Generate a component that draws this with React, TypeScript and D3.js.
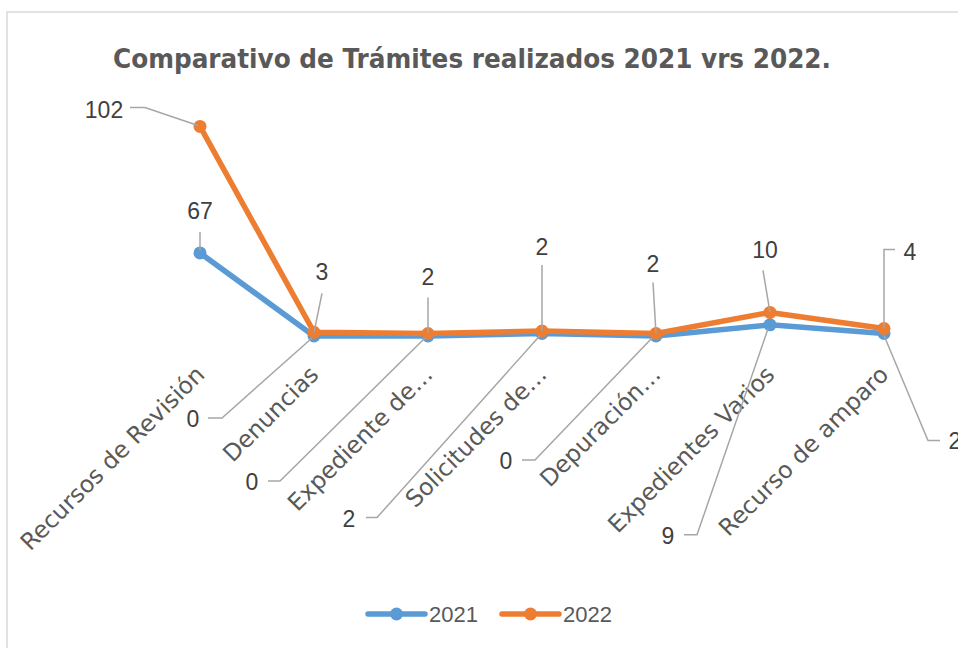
import React from "react";
import * as d3 from "d3";

const categories = [
  "Recursos de Revisión",
  "Denuncias",
  "Expediente de…",
  "Solicitudes de…",
  "Depuración…",
  "Expedientes Varios",
  "Recurso de amparo",
];
const series2021 = [67, 0, 0, 2, 0, 9, 2];
const series2022 = [102, 3, 2, 2, 2, 10, 4];
const seriesNames = ["2021", "2022"];
const title = "Comparativo de Trámites realizados 2021 vrs 2022.";

// label layout (offsets relative to each point): [textDx, textDy], leader polyline
const labelLayout2021: { t: [number, number]; l: [number, number][] }[] = [
  { t: [0, -42], l: [[0, -21], [0, -3]] },
  { t: [-121, 83], l: [[-106, 82], [-92, 82], [-2, 2]] },
  { t: [-176, 146], l: [[-160, 145], [-148, 145], [-3, 2]] },
  { t: [-193, 185], l: [[-176, 184], [-165, 184], [-2, 2]] },
  { t: [-150, 125], l: [[-134, 124], [-121, 124], [-4, 2]] },
  { t: [-102, 211], l: [[-86, 210], [-73, 210], [-2, 4]] },
  { t: [71, 107], l: [[0, 2], [44, 107], [56, 107]] },
];
const labelLayout2022: { t: [number, number]; l: [number, number][] }[] = [
  { t: [-96, -16], l: [[-70, -19], [-55, -19], [-2, -1]] },
  { t: [8, -60], l: [[8, -39], [0, 0]] },
  { t: [0, -57], l: [[0, -36], [0, 0]] },
  { t: [0, -84], l: [[0, -66], [0, 0]] },
  { t: [-3, -70], l: [[-3, -51], [0, 0]] },
  { t: [-5, -62], l: [[-7, -42], [0, 0]] },
  { t: [26, -77], l: [[11, -79], [0, -79], [0, 0]] },
];

const BLUE = "#5B9BD5";
const ORANGE = "#ED7D31";

export default function App() {
  const W = 958;
  const H = 648;
  const x = d3.scalePoint<string>().domain(categories).range([200, 884]);
  const base = 336;
  const y = d3.scaleLinear().domain([0, 180]).range([base, base - 180 * 1.24]);

  // stacked line: 2022 plotted on top of 2021
  const stacked2022 = series2022.map((v, i) => v + series2021[i]);
  const pts2021 = categories.map((c, i) => [x(c)!, y(series2021[i])] as [number, number]);
  const pts2022 = categories.map((c, i) => [x(c)!, y(stacked2022[i])] as [number, number]);
  const line = d3.line<[number, number]>();

  const leaderColor = "#A6A6A6";
  const labelFont = "'Liberation Sans', Arial, sans-serif";

  const renderLabels = (
    pts: [number, number][],
    vals: number[],
    layout: { t: [number, number]; l: [number, number][] }[],
    key: string
  ) =>
    pts.map(([px, py], i) => {
      const lay = layout[i];
      const path = lay.l.map(([dx, dy]) => [px + dx, py + dy] as [number, number]);
      return (
        <g key={key + i}>
          <path d={line(path) || ""} fill="none" stroke={leaderColor} strokeWidth={1.5} />
          <text
            x={px + lay.t[0]}
            y={py + lay.t[1] + 8}
            textAnchor="middle"
            fontFamily={labelFont}
            fontSize={23}
            fill="#404040"
          >
            {vals[i]}
          </text>
        </g>
      );
    });

  return (
    <svg
      width={W}
      height={H}
      style={{ position: "absolute", left: 0, top: 0, background: "#fff" }}
    >
      <rect x={0} y={0} width={W} height={H} fill="#fff" />
      <rect x={7} y={12} width={W + 20} height={H + 20} fill="#fff" stroke="#D9D9D9" strokeWidth={1.5} />
      <text
        x={472}
        y={68}
        textAnchor="middle"
        fontFamily="'DejaVu Sans', sans-serif"
        fontWeight="bold"
        fontSize={27}
        fill="#595959"
        textLength={718}
        lengthAdjust="spacingAndGlyphs"
      >
        {title}
      </text>

      {/* category labels */}
      {categories.map((c) => (
        <text
          key={c}
          transform={`translate(${x(c)! + 6},${base + 40}) rotate(-45)`}
          textAnchor="end"
          fontFamily="'DejaVu Sans', sans-serif"
          fontSize={23.5}
          fill="#595959"
        >
          {c}
        </text>
      ))}

      {/* lines */}
      <path d={line(pts2021) || ""} fill="none" stroke={BLUE} strokeWidth={5.5} strokeLinejoin="round" />
      {pts2021.map(([px, py], i) => (
        <circle key={"b" + i} cx={px} cy={py} r={6.5} fill={BLUE} />
      ))}
      <path d={line(pts2022) || ""} fill="none" stroke={ORANGE} strokeWidth={5.5} strokeLinejoin="round" />
      {pts2022.map(([px, py], i) => (
        <circle key={"o" + i} cx={px} cy={py} r={6.5} fill={ORANGE} />
      ))}

      {renderLabels(pts2021, series2021, labelLayout2021, "l21")}
      {renderLabels(pts2022, series2022, labelLayout2022, "l22")}

      {/* legend */}
      {seriesNames.map((name, i) => {
        const lx = i === 0 ? 368 : 502;
        const color = i === 0 ? BLUE : ORANGE;
        return (
          <g key={name}>
            <line x1={lx} x2={lx + 57} y1={614} y2={614} stroke={color} strokeWidth={5.5} strokeLinecap="round" />
            <circle cx={lx + 28.5} cy={614} r={6.5} fill={color} />
            <text x={lx + 61} y={622} fontFamily={labelFont} fontSize={22} fill="#595959">
              {name}
            </text>
          </g>
        );
      })}
    </svg>
  );
}
